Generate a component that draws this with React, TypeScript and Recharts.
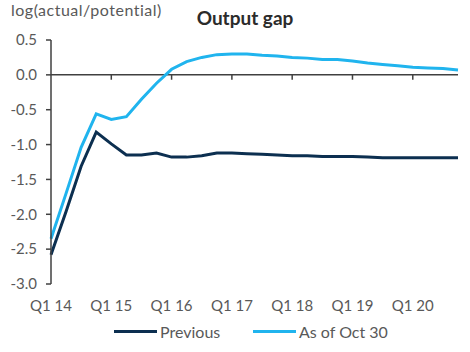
import React from "react";
import {
  LineChart,
  Line,
  XAxis,
  YAxis,
  ReferenceLine,
  Legend,
} from "recharts";

const quarters = [
  "Q1 14", "Q2 14", "Q3 14", "Q4 14",
  "Q1 15", "Q2 15", "Q3 15", "Q4 15",
  "Q1 16", "Q2 16", "Q3 16", "Q4 16",
  "Q1 17", "Q2 17", "Q3 17", "Q4 17",
  "Q1 18", "Q2 18", "Q3 18", "Q4 18",
  "Q1 19", "Q2 19", "Q3 19", "Q4 19",
  "Q1 20", "Q2 20", "Q3 20", "Q4 20",
];

const previous = [
  -2.58, -1.96, -1.31, -0.82, -0.99, -1.15, -1.15, -1.12,
  -1.18, -1.18, -1.16, -1.12, -1.12, -1.13, -1.14, -1.15,
  -1.16, -1.16, -1.17, -1.17, -1.17, -1.18, -1.19, -1.19,
  -1.19, -1.19, -1.19, -1.19,
];

const asOfOct30 = [
  -2.35, -1.7, -1.04, -0.56, -0.64, -0.6, -0.35, -0.12,
  0.08, 0.19, 0.25, 0.29, 0.3, 0.3, 0.28, 0.27,
  0.25, 0.24, 0.22, 0.22, 0.2, 0.17, 0.15, 0.13,
  0.11, 0.1, 0.09, 0.07,
];

const seriesNames = ["Previous", "As of Oct 30"];
const yTicks = [-3, -2.5, -2, -1.5, -1, -0.5, 0, 0.5];
const xTickLabels = ["Q1 15", "Q1 16", "Q1 17", "Q1 18", "Q1 19", "Q1 20"];

const data = quarters.map((q, i) => ({
  q,
  previous: previous[i],
  current: asOfOct30[i],
}));

const font = "Lato, 'Open Sans', sans-serif";
const textColor = "#595959";

function LegendContent({ payload }: any) {
  // keep series order, recharts sorts legend items by name
  const items = [...(payload || [])].sort(
    (a: any, b: any) => seriesNames.indexOf(a.value) - seriesNames.indexOf(b.value)
  );
  return (
    <div style={{ display: "flex", marginLeft: 114, fontFamily: font, fontSize: 16, color: textColor }}>
      {items.map((p: any) => (
        <div key={p.value} style={{ display: "flex", alignItems: "center", width: 139 }}>
          <span style={{ display: "inline-block", width: 43, height: 3, background: p.color, marginRight: 3 }} />
          <span>{p.value}</span>
        </div>
      ))}
    </div>
  );
}

export default function App() {
  return (
    <div style={{ position: "absolute", left: 0, top: 0, width: 470, height: 352, background: "#fff" }}>
      <div
        style={{
          position: "absolute",
          left: 11,
          top: 0,
          fontFamily: font,
          fontSize: 16,
          letterSpacing: 0.5,
          color: textColor,
        }}
      >
        log(actual/potential)
      </div>
      <div
        style={{
          position: "absolute",
          left: 0,
          width: 490,
          top: 6,
          textAlign: "center",
          fontFamily: font,
          fontSize: 19,
          fontWeight: 700,
          color: "#2b2b2b",
        }}
      >
        Output gap
      </div>
      <LineChart
        width={470}
        height={352}
        data={data}
        margin={{ top: 40, right: 12, bottom: 38, left: 0 }}
      >
        <XAxis
          dataKey="q"
          interval={3}
          axisLine={false}
          tickLine={false}
          height={30}
          tickMargin={10}
          tick={{ fill: textColor, fontSize: 15, fontFamily: font }}
        />
        <YAxis
          domain={[-3, 0.5]}
          ticks={yTicks}
          width={51}
          tickFormatter={(v: number) => v.toFixed(1)}
          tickSize={5}
          tickMargin={9}
          axisLine={{ stroke: "#404040", strokeWidth: 1.5 }}
          tickLine={{ stroke: "#404040", strokeWidth: 1.5 }}
          tick={{ fill: textColor, fontSize: 15, fontFamily: font }}
          allowDataOverflow
        />
        <ReferenceLine y={0} stroke="#404040" strokeWidth={1.5} />
        {xTickLabels.map((q) => (
          <ReferenceLine
            key={q}
            segment={[
              { x: q, y: 0 },
              { x: q, y: -0.07 },
            ]}
            stroke="#404040"
            strokeWidth={1.5}
          />
        ))}
        <Line
          dataKey="previous"
          name="Previous"
          stroke="#0c2f50"
          strokeWidth={3}
          dot={false}
          isAnimationActive={false}
        />
        <Line
          dataKey="current"
          name="As of Oct 30"
          stroke="#20b4ee"
          strokeWidth={3}
          dot={false}
          isAnimationActive={false}
        />
        <Legend
          verticalAlign="middle"
          layout="horizontal"
          content={<LegendContent />}
          wrapperStyle={{ top: 322, left: 0, width: 470 }}
        />
      </LineChart>
    </div>
  );
}
